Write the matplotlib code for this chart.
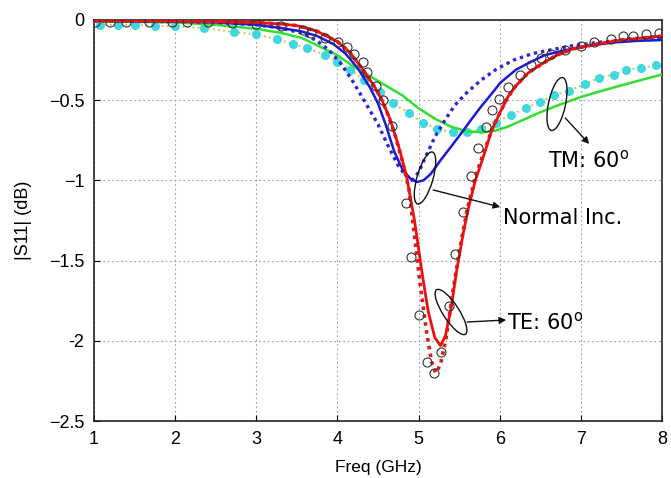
import matplotlib
matplotlib.use("Agg")
import matplotlib.pyplot as plt
from matplotlib.patches import Ellipse
from matplotlib.transforms import IdentityTransform

# ---------------- data ----------------
te_f = [1.0, 1.5, 2.0, 2.5, 3.0, 3.3, 3.5, 3.75, 4.0, 4.15, 4.3, 4.45, 4.55, 4.65, 4.75, 4.85,
        4.95, 5.05, 5.12, 5.2, 5.27, 5.33, 5.4, 5.47, 5.55, 5.62, 5.7, 5.8, 5.9, 6.0, 6.1, 6.2,
        6.35, 6.5, 6.7, 6.9, 7.2, 7.5, 7.8, 8.0]
te_v = [-0.005, -0.005, -0.007, -0.01, -0.015, -0.025, -0.035, -0.07, -0.135, -0.2, -0.3, -0.41,
        -0.5, -0.62, -0.78, -0.97, -1.25, -1.6, -1.82, -1.98, -2.03, -1.97, -1.8, -1.56, -1.33,
        -1.16, -1.0, -0.85, -0.69, -0.58, -0.48, -0.41, -0.33, -0.28, -0.22, -0.18, -0.15,
        -0.125, -0.11, -0.10]

te2_f = [1.0, 1.5, 2.0, 2.5, 3.0, 3.3, 3.5, 3.75, 4.0, 4.15, 4.3, 4.45, 4.5, 4.6, 4.7, 4.8,
         4.88, 4.95, 5.02, 5.1, 5.16, 5.21, 5.27, 5.34, 5.42, 5.5, 5.6, 5.7, 5.8, 5.9, 6.0, 6.1,
         6.2, 6.35, 6.5, 6.7, 6.9, 7.2, 7.5, 7.8, 8.0]
te2_v = [-0.005, -0.005, -0.007, -0.01, -0.015, -0.025, -0.035, -0.07, -0.135, -0.2, -0.3, -0.41,
         -0.45, -0.56, -0.70, -0.88, -1.05, -1.35, -1.65, -1.95, -2.13, -2.2, -2.15, -1.98, -1.7,
         -1.45, -1.18, -0.98, -0.83, -0.69, -0.58, -0.48, -0.41, -0.33, -0.28, -0.22, -0.18,
         -0.15, -0.125, -0.11, -0.10]

ni_f = [1.0, 1.5, 2.0, 2.5, 3.0, 3.3, 3.55, 3.75, 3.95, 4.1, 4.25, 4.4, 4.5, 4.6, 4.7, 4.8,
        4.9, 4.98, 5.06, 5.15, 5.27, 5.4, 5.52, 5.65, 5.77, 5.9, 6.01, 6.2, 6.35, 6.55, 6.79,
        7.1, 7.41, 7.7, 8.0]
ni_v = [-0.005, -0.007, -0.01, -0.015, -0.03, -0.05, -0.07, -0.1, -0.15, -0.21, -0.3, -0.42,
        -0.52, -0.66, -0.82, -0.93, -0.99, -1.01, -1.0, -0.96, -0.875, -0.79, -0.71, -0.62,
        -0.54, -0.46, -0.39, -0.31, -0.27, -0.22, -0.19, -0.16, -0.14, -0.13, -0.125]

ni2_f = [1.0, 2.0, 2.5, 3.0, 3.3, 3.55, 3.75, 3.9, 4.04, 4.2, 4.35, 4.5, 4.62, 4.74, 4.84,
         4.92, 5.0, 5.08, 5.2, 5.33, 5.45, 5.6, 5.77, 5.95, 6.17, 6.4, 6.59, 6.9, 7.21, 7.6, 8.0]
ni2_v = [-0.005, -0.01, -0.015, -0.03, -0.05, -0.08, -0.13, -0.19, -0.27, -0.39, -0.52, -0.65,
         -0.78, -0.9, -0.97, -1.0, -0.95, -0.86, -0.73, -0.62, -0.53, -0.45, -0.375, -0.31,
         -0.25, -0.21, -0.19, -0.16, -0.14, -0.12, -0.11]

tm_f = [1.0, 1.5, 2.0, 2.5, 3.0, 3.3, 3.55, 3.8, 4.0, 4.2, 4.4, 4.6, 4.8, 5.0, 5.2, 5.4, 5.6,
        5.8, 5.95, 6.1, 6.3, 6.5, 6.7, 7.0, 7.2, 7.41, 7.7, 8.0]
tm_v = [-0.01, -0.012, -0.015, -0.03, -0.055, -0.08, -0.11, -0.17, -0.22, -0.29, -0.35, -0.41,
        -0.47, -0.55, -0.615, -0.665, -0.695, -0.70, -0.69, -0.665, -0.62, -0.575, -0.535,
        -0.48, -0.45, -0.42, -0.38, -0.34]

tm2_f = [1.07, 1.3, 1.5, 1.75, 2.0, 2.35, 2.72, 3.0, 3.26, 3.45, 3.63, 3.85, 4.0, 4.16, 4.33,
         4.53, 4.69, 4.88, 5.05, 5.23, 5.42, 5.6, 5.77, 5.95, 6.14, 6.32, 6.5, 6.67, 6.85, 7.05,
         7.22, 7.41, 7.56, 7.74, 7.93]
tm2_v = [-0.03, -0.03, -0.03, -0.035, -0.04, -0.05, -0.075, -0.09, -0.12, -0.15, -0.175, -0.22,
         -0.26, -0.31, -0.375, -0.45, -0.52, -0.58, -0.64, -0.68, -0.70, -0.70, -0.68, -0.64,
         -0.59, -0.55, -0.51, -0.47, -0.44, -0.40, -0.36, -0.34, -0.31, -0.30, -0.28]

meas_f = [1.01, 1.2, 1.4, 1.68, 1.96, 2.15, 2.4, 2.7, 3.0, 3.3, 3.57, 3.67, 3.85, 4.01, 4.12,
          4.2, 4.31, 4.37, 4.47, 4.56, 4.67, 4.84, 4.91, 5.0, 5.1, 5.19, 5.28, 5.37, 5.45, 5.55,
          5.64, 5.73, 5.83, 5.91, 5.99, 6.1, 6.25, 6.38, 6.51, 6.63, 6.81, 7.0, 7.16, 7.37,
          7.52, 7.64, 7.8, 7.96]
meas_v = [-0.01, -0.01, -0.01, -0.01, -0.01, -0.015, -0.015, -0.02, -0.025, -0.04, -0.06,
          -0.08, -0.11, -0.14, -0.17, -0.21, -0.26, -0.325, -0.41, -0.5, -0.66, -1.14, -1.475,
          -1.84, -2.13, -2.2, -2.07, -1.78, -1.46, -1.2, -0.97, -0.80, -0.67, -0.56, -0.49,
          -0.42, -0.34, -0.28, -0.24, -0.21, -0.19, -0.16, -0.14, -0.12, -0.10, -0.10, -0.09,
          -0.08]

x_ticks = [1, 2, 3, 4, 5, 6, 7, 8]
y_ticks = [-2.5, -2, -1.5, -1, -0.5, 0]
y_tick_labels = ['\u22122.5', '-2', '\u22121.5', '\u22121', '\u22120.5', '0']

# ---------------- figure ----------------
W, H = 671, 478
fig = plt.figure(figsize=(W / 100, H / 100), dpi=100)
ax = fig.add_axes([94 / W, (H - 421) / H, 568 / W, 401 / H])

ax.grid(True, linestyle=(0, (1.5, 2.5)), color='#9a9ab8', linewidth=0.8)
ax.set_axisbelow(True)

# TM 60 (green) and its dotted/cyan companion
ax.plot(tm2_f, tm2_v, linestyle=':', color='#c8c84a', linewidth=1.4, zorder=2)
ax.plot(tm2_f, tm2_v, linestyle='none', marker='o', markersize=5.5,
        markerfacecolor='#3fd8e0', markeredgecolor='#3fd8e0', zorder=3)
ax.plot(tm_f, tm_v, color='#30e030', linewidth=1.8, zorder=3)

# Normal incidence (blue)
ax.plot(ni2_f, ni2_v, linestyle=(0, (1, 1.2)), color='#2a2ad0', linewidth=2.4, zorder=4)
ax.plot(ni_f, ni_v, color='#1a1ad8', linewidth=1.8, zorder=4)

# TE 60 (red)
ax.plot(te2_f, te2_v, linestyle=(0, (1, 1.2)), color='#d42020', linewidth=2.6, zorder=5)
ax.plot(te_f, te_v, color='#ee1010', linewidth=2.0, zorder=5)

# measured circles
ax.plot(meas_f, meas_v, linestyle='none', marker='o', markersize=6.5,
        markerfacecolor='none', markeredgecolor='#333333', markeredgewidth=0.8, zorder=6)

ax.set_xlim(1, 8)
ax.set_ylim(-2.5, 0)
ax.set_xticks(x_ticks)
ax.set_yticks(y_ticks)
ax.set_yticklabels(y_tick_labels)
ax.tick_params(direction='in', length=4, width=0.8, labelsize=13, pad=7,
               top=False, right=False)
for lab in ax.get_xticklabels() + ax.get_yticklabels():
    lab.set_fontfamily('Liberation Sans')
for s in ax.spines.values():
    s.set_linewidth(1.2)
    s.set_color('#222222')

ax.set_xlabel('Freq (GHz)', fontsize=12.5, family='Liberation Sans', labelpad=9)
ax.set_ylabel('|S11| (dB)', fontsize=13, family='Liberation Sans', labelpad=12)


# ---------------- annotations ----------------
def px2data(x, y):
    return (1 + (x - 94) / 81.1, -(y - 20) / 160.4)


def loop(cx, cy, w, h, angle):
    e = Ellipse((cx, H - cy), w, h, angle=angle, transform=IdentityTransform(),
                fill=False, edgecolor='#111111', linewidth=1.0, zorder=8)
    ax.add_artist(e)


loop(425, 178, 16, 54, -16)
loop(451, 312, 16, 53, 33)
loop(557, 104, 17, 54, -12)

arrow = dict(arrowstyle='-|>', color='#111111', lw=1.0, mutation_scale=10, shrinkA=0, shrinkB=0)
ax.annotate('', xy=px2data(500, 207), xytext=px2data(433, 190), arrowprops=arrow, zorder=8)
ax.annotate('', xy=px2data(506, 320), xytext=px2data(467, 322), arrowprops=arrow, zorder=8)
ax.annotate('', xy=px2data(589, 144), xytext=px2data(565, 118), arrowprops=arrow, zorder=8)

tx, ty = px2data(503, 218)
ax.text(tx, ty, 'Normal Inc.', fontsize=15, family='DejaVu Sans', va='center', ha='left', zorder=9)
tx, ty = px2data(507, 322)
ax.text(tx, ty, 'TE: 60$^{\\mathregular{o}}$', fontsize=15, family='DejaVu Sans', va='center', ha='left', zorder=9)
tx, ty = px2data(548, 160)
ax.text(tx, ty, 'TM: 60$^{\\mathregular{o}}$', fontsize=15, family='DejaVu Sans', va='center', ha='left', zorder=9)

fig.savefig('out.png', dpi=100)
